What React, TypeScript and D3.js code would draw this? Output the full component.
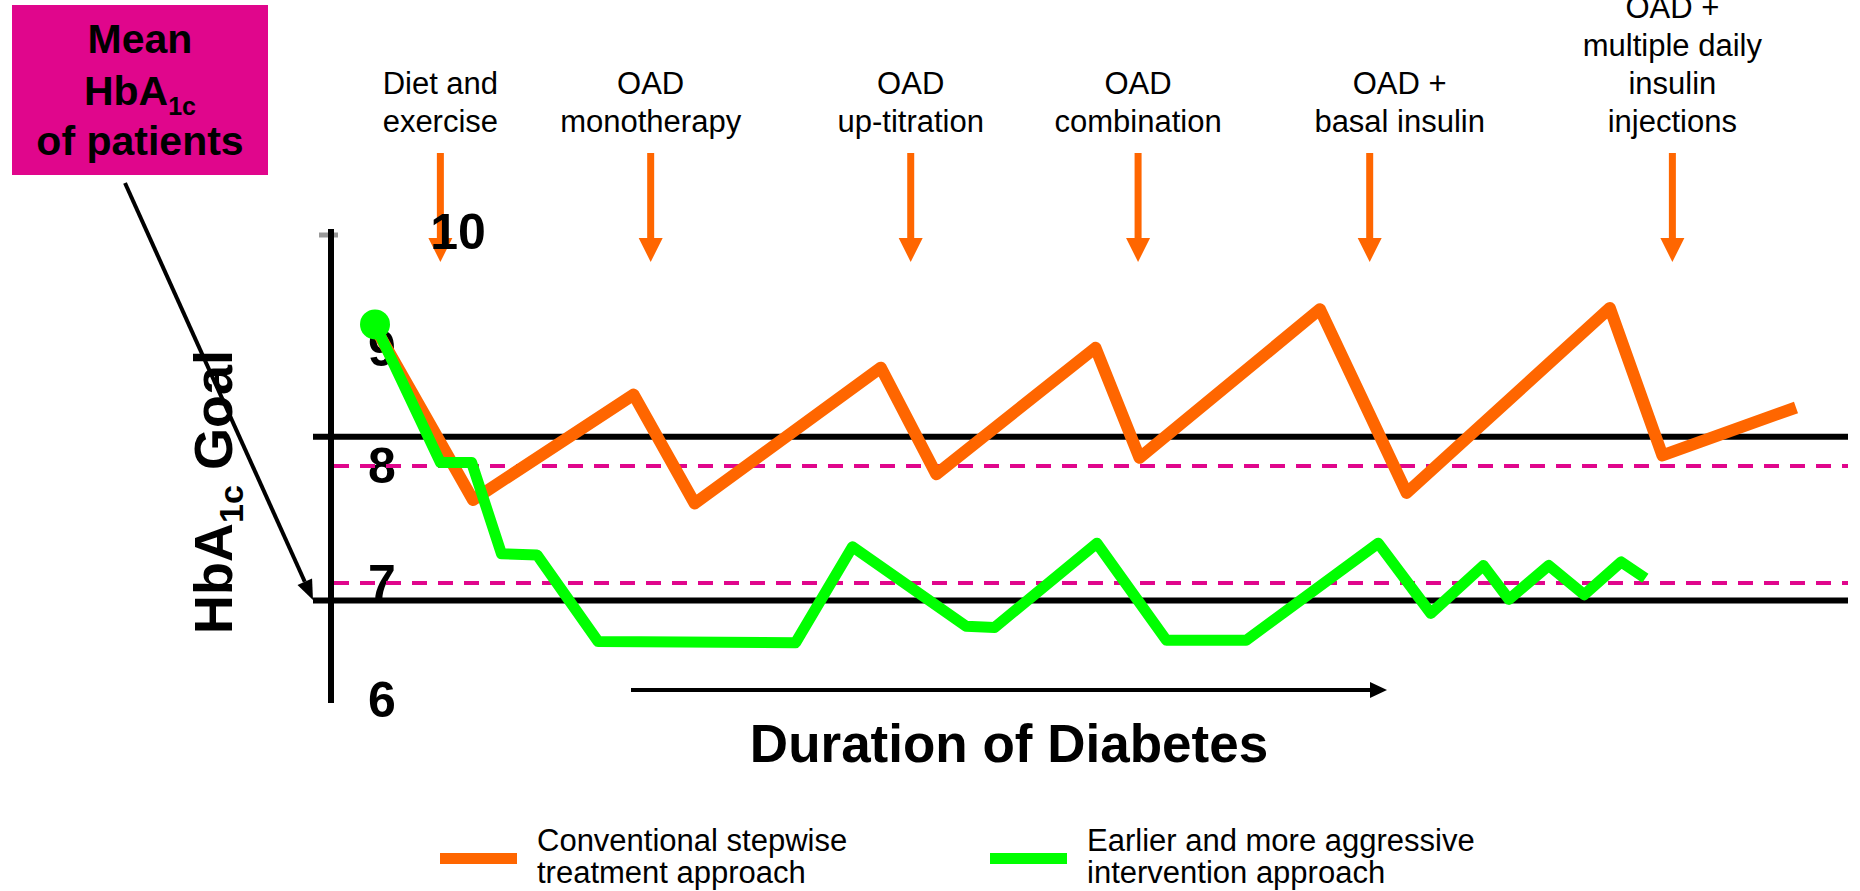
import * as d3 from 'd3';

// Duration of diabetes, arbitrary units (0 = diagnosis)
const conventionalTime = [0.3, 6.9, 18.2, 22.5, 35.6, 39.5, 50.7, 53.8, 66.5, 72.6, 86.9, 90.6, 100];
const conventionalHbA1c = [9.12, 7.71, 8.61, 7.68, 8.84, 7.93, 9.01, 8.07, 9.34, 7.77, 9.35, 8.09, 8.5];

const aggressiveTime = [
  0, 4.6, 6.8, 8.9, 11.4, 15.7, 29.6, 33.6, 41.6, 43.6, 50.8, 55.7, 61.3, 70.6, 74.3, 78.0, 79.8,
  82.6, 85.1, 87.7, 89.4,
];
const aggressiveHbA1c = [
  9.21, 8.03, 8.03, 7.25, 7.24, 6.5, 6.49, 7.31, 6.63, 6.62, 7.34, 6.51, 6.51, 7.34, 6.74, 7.15,
  6.86, 7.15, 6.9, 7.18, 7.04,
];

const stepTimes = [4.6, 19.4, 37.7, 53.7, 70.0, 91.3];
const stepLabels = [
  ['Diet and', 'exercise'],
  ['OAD', 'monotherapy'],
  ['OAD', 'up-titration'],
  ['OAD', 'combination'],
  ['OAD +', 'basal insulin'],
  ['OAD +', 'multiple daily', 'insulin', 'injections'],
];

const yTicks = [10, 9, 8, 7, 6];
const targetLines = [8, 7]; // dashed
const goalLines = [8.25, 6.85]; // solid

const legendItems = [
  { color: '#ff6600', lines: ['Conventional stepwise', 'treatment approach'] },
  { color: '#00ff00', lines: ['Earlier and more aggressive', 'intervention approach'] },
];

const FONT = "'Liberation Sans', Arial, Helvetica, sans-serif";
const PINK = '#e0068c';
const ORANGE = '#ff6600';
const GREEN = '#00ff00';

function App() {
  const width = 1860;
  const height = 891;

  const x = d3.scaleLinear().domain([0, 100]).range([375, 1796]);
  const y = d3.scaleLinear().domain([6, 10]).range([700, 232]);

  const line = d3
    .line<[number, number]>()
    .x((d) => x(d[0]))
    .y((d) => y(d[1]));

  const conventional = conventionalTime.map((t, i) => [t, conventionalHbA1c[i]] as [number, number]);
  const aggressive = aggressiveTime.map((t, i) => [t, aggressiveHbA1c[i]] as [number, number]);

  const axisX = 331;
  const lineLeft = 313;
  const lineRight = 1848;

  // pointer arrow from the pink box to the lower goal line
  const p0 = [125, 183];
  const p1 = [313, 600];
  const ang = Math.atan2(p1[1] - p0[1], p1[0] - p0[0]);
  const headLen = 20;
  const headW = 8;
  const bx = p1[0] - headLen * Math.cos(ang);
  const by = p1[1] - headLen * Math.sin(ang);
  const head = [
    [p1[0], p1[1]],
    [bx + headW * Math.sin(ang), by - headW * Math.cos(ang)],
    [bx - headW * Math.sin(ang), by + headW * Math.cos(ang)],
  ];

  return (
    <svg
      width={width}
      height={height}
      style={{ position: 'absolute', left: 0, top: 0, display: 'block', background: '#fff' }}
      fontFamily={FONT}
    >
      {/* pink label box */}
      <rect x={12} y={5} width={256} height={170} fill={PINK} />
      <g fontWeight="bold" fontSize={41} textAnchor="middle" fill="#000">
        <text x={140} y={53}>Mean</text>
        <text x={140} y={105}>
          HbA
          <tspan fontSize={25} dy={10}>
            1c
          </tspan>
        </text>
        <text x={140} y={155}>of patients</text>
      </g>

      {/* step labels and arrows */}
      {stepLabels.map((lines, i) => {
        const ax = x(stepTimes[i]);
        const tx = ax + (i === 4 ? 30 : 0);
        const lastBase = 132;
        return (
          <g key={i}>
            <text x={tx} textAnchor="middle" fontSize={31} fill="#000">
              {lines.map((l, j) => (
                <tspan key={j} x={tx} y={lastBase - (lines.length - 1 - j) * 38}>
                  {l}
                </tspan>
              ))}
            </text>
            <rect x={ax - 3.5} y={153} width={7} height={88} fill={ORANGE} />
            <polygon
              points={`${ax - 12},${238} ${ax + 12},${238} ${ax},${262}`}
              fill={ORANGE}
            />
          </g>
        );
      })}

      {/* y axis */}
      <line x1={319} x2={338} y1={235} y2={235} stroke="#999" strokeWidth={5} />
      <line x1={axisX} x2={axisX} y1={y(10) - 3} y2={y(6) + 3} stroke="#000" strokeWidth={6} />
      <g fontWeight="bold" fontSize={50} textAnchor="middle" dominantBaseline="central">
        {yTicks.map((t) => (
          <text key={t} x={t === 10 ? 458 : 382} y={y(t)}>
            {t}
          </text>
        ))}
      </g>

      {/* goal lines */}
      {targetLines.map((v) => (
        <line
          key={'t' + v}
          x1={axisX + 3}
          x2={lineRight}
          y1={y(v)}
          y2={y(v)}
          stroke={PINK}
          strokeWidth={4}
          strokeDasharray="15 11"
        />
      ))}
      {goalLines.map((v) => (
        <line
          key={'g' + v}
          x1={lineLeft}
          x2={lineRight}
          y1={y(v)}
          y2={y(v)}
          stroke="#000"
          strokeWidth={6}
        />
      ))}

      {/* series */}
      <path
        d={line(conventional) ?? ''}
        fill="none"
        stroke={ORANGE}
        strokeWidth={12}
        strokeLinejoin="round"
      />
      <path
        d={line(aggressive) ?? ''}
        fill="none"
        stroke={GREEN}
        strokeWidth={11}
        strokeLinejoin="round"
      />
      <circle cx={x(aggressiveTime[0])} cy={y(aggressiveHbA1c[0])} r={15} fill={GREEN} />

      {/* y axis title */}
      <text
        transform="translate(232,492) rotate(-90)"
        textAnchor="middle"
        fontWeight="bold"
        fontSize={54}
      >
        HbA
        <tspan fontSize={34} dy={11}>
          1c
        </tspan>
        <tspan dy={-11}> Goal</tspan>
      </text>

      {/* pointer arrow */}
      <line x1={p0[0]} y1={p0[1]} x2={bx} y2={by} stroke="#000" strokeWidth={4} />
      <polygon points={head.map((p) => p.join(',')).join(' ')} fill="#000" />

      {/* duration arrow */}
      <line x1={631} x2={1372} y1={690} y2={690} stroke="#000" strokeWidth={4} />
      <polygon points="1370,682 1387,690 1370,698" fill="#000" />
      <text x={1009} y={762} textAnchor="middle" fontWeight="bold" fontSize={53}>
        Duration of Diabetes
      </text>

      {/* legend */}
      {legendItems.map((item, i) => {
        const lx = i === 0 ? 440 : 990;
        return (
          <g key={i}>
            <rect x={lx} y={853} width={77} height={11} fill={item.color} />
            <text fontSize={31} fill="#000">
              {item.lines.map((l, j) => (
                <tspan key={j} x={lx + 97} y={851 + j * 32}>
                  {l}
                </tspan>
              ))}
            </text>
          </g>
        );
      })}
    </svg>
  );
}

export default App;
